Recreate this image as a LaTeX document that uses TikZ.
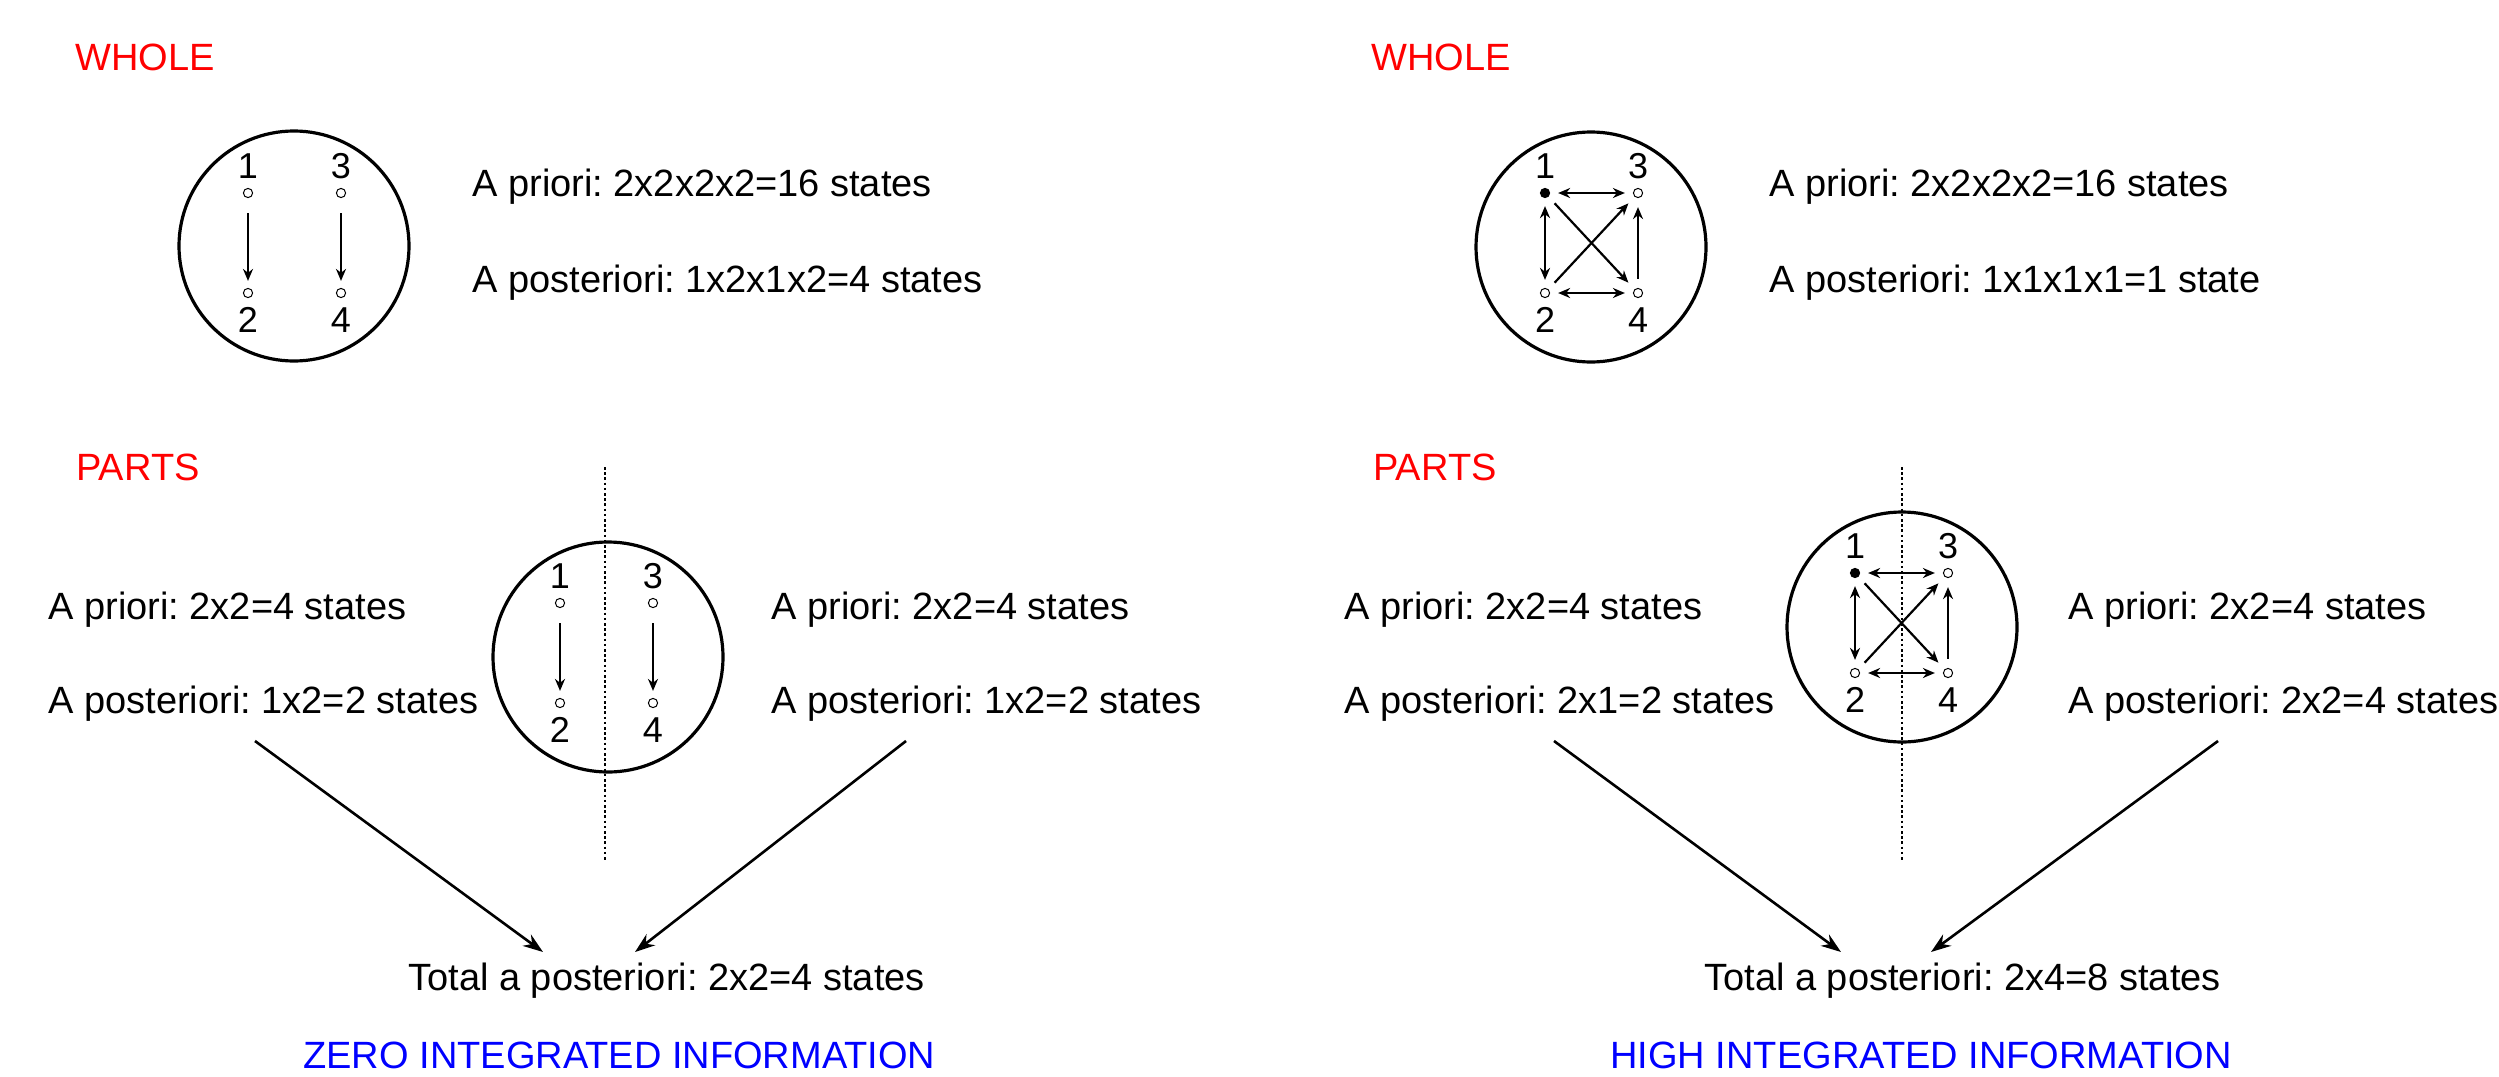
\documentclass[tikz,border=0pt]{standalone}
\usepackage{fontspec}
\setmainfont{Liberation Sans}
\usetikzlibrary{arrows.meta}
\frenchspacing
\begin{document}
\begin{tikzpicture}[x=0.5pt,y=-0.5pt,
  txt/.style={anchor=base west, inner sep=0pt, font=\fontsize{19}{22}\selectfont},
  hdr/.style={txt, text=red},
  concl/.style={txt, text=blue},
  lbl/.style={anchor=base, inner sep=0pt, font=\fontsize{18}{21}\selectfont},
  unit/.style={circle, draw, line width=0.5pt, minimum size=4.6pt, inner sep=0pt, fill=white},
  onunit/.style={unit, fill=black},
  whole/.style={circle, draw, line width=1.6pt, minimum size=115pt, inner sep=0pt},
  tipA/.tip={Stealth[length=6pt,width=5pt]},
  vlink/.style={line width=1.1pt, -tipA, shorten <=7.5pt, shorten >=3.5pt},
  link/.style={line width=1.1pt, -tipA, shorten <=4.5pt, shorten >=4.5pt},
  blink/.style={line width=1.1pt, tipA-tipA, shorten <=4pt, shorten >=4pt},
  cut/.style={line width=1.3pt, dash pattern=on 1.3pt off 1.3pt},
  flow/.style={line width=1.3pt, -{Stealth[length=10pt,width=7pt]}}
]
\fill[white] (0,0) rectangle (2499,1076);
\useasboundingbox (0,0) rectangle (2499,1076);

% ================= LEFT PANEL =================
\node[hdr] (wholeL) at (75,70) {WHOLE};
\node[whole] (cTL) at (294,246) {};
\node[unit] (tl1) at (248,193) {};
\node[unit] (tl3) at (341,193) {};
\node[unit] (tl2) at (248,293) {};
\node[unit] (tl4) at (341,293) {};
\node[lbl] (tl1l) at (248,178) {1};
\node[lbl] (tl3l) at (341,178) {3};
\node[lbl] (tl2l) at (248,332) {2};
\node[lbl] (tl4l) at (341,332) {4};
\draw[vlink] (tl1) -- (tl2);
\draw[vlink] (tl3) -- (tl4);
\node[txt] (tlpri) at (472,196) {A priori: 2x2x2x2=16 states};
\node[txt] (tlpost) at (472,292) {A posteriori: 1x2x1x2=4 states};

\node[hdr] (partsL) at (76,480) {PARTS};
\coordinate (cutLa) at (605,467);
\coordinate (cutLb) at (605,862);
\draw[cut] (cutLa) -- (cutLb);
\node[whole] (cBL) at (608,657) {};
\node[unit] (bl1) at (560,603) {};
\node[unit] (bl3) at (653,603) {};
\node[unit] (bl2) at (560,703) {};
\node[unit] (bl4) at (653,703) {};
\node[lbl] (bl1l) at (560,588) {1};
\node[lbl] (bl3l) at (653,588) {3};
\node[lbl] (bl2l) at (560,742) {2};
\node[lbl] (bl4l) at (653,742) {4};
\draw[vlink] (bl1) -- (bl2);
\draw[vlink] (bl3) -- (bl4);
\node[txt] (blpriA) at (48,619) {A priori: 2x2=4 states};
\node[txt] (blpostA) at (48,713) {A posteriori: 1x2=2 states};
\node[txt] (blpriB) at (771,619) {A priori: 2x2=4 states};
\node[txt] (blpostB) at (771,713) {A posteriori: 1x2=2 states};

\coordinate (fLa) at (255,741);
\coordinate (fLb) at (906,741);
\coordinate (fLta) at (543,952);
\coordinate (fLtb) at (635,952);
\draw[flow] (fLa) -- (fLta);
\draw[flow] (fLb) -- (fLtb);
\node[txt] (totL) at (408,990) {Total a posteriori: 2x2=4 states};
\node[concl] (zero) at (303,1068) {ZERO INTEGRATED INFORMATION};

% ================= RIGHT PANEL =================
\node[hdr] (wholeR) at (1371,70) {WHOLE};
\node[whole] (cTR) at (1591,247) {};
\node[onunit] (tr1) at (1545,193) {};
\node[unit] (tr3) at (1638,193) {};
\node[unit] (tr2) at (1545,293) {};
\node[unit] (tr4) at (1638,293) {};
\node[lbl] (tr1l) at (1545,178) {1};
\node[lbl] (tr3l) at (1638,178) {3};
\node[lbl] (tr2l) at (1545,332) {2};
\node[lbl] (tr4l) at (1638,332) {4};
\draw[blink] (tr1) -- (tr3);
\draw[blink] (tr1) -- (tr2);
\draw[blink] (tr2) -- (tr4);
\draw[link] (tr4) -- (tr3);
\draw[link] (tr1) -- (tr4);
\draw[link] (tr2) -- (tr3);
\node[txt] (trpri) at (1769,196) {A priori: 2x2x2x2=16 states};
\node[txt] (trpost) at (1769,292) {A posteriori: 1x1x1x1=1 state};

\node[hdr] (partsR) at (1373,480) {PARTS};
\coordinate (cutRa) at (1902,467);
\coordinate (cutRb) at (1902,862);
\draw[cut] (cutRa) -- (cutRb);
\node[whole] (cBR) at (1902,627) {};
\node[onunit] (br1) at (1855,573) {};
\node[unit] (br3) at (1948,573) {};
\node[unit] (br2) at (1855,673) {};
\node[unit] (br4) at (1948,673) {};
\node[lbl] (br1l) at (1855,558) {1};
\node[lbl] (br3l) at (1948,558) {3};
\node[lbl] (br2l) at (1855,712) {2};
\node[lbl] (br4l) at (1948,712) {4};
\draw[blink] (br1) -- (br3);
\draw[blink] (br1) -- (br2);
\draw[blink] (br2) -- (br4);
\draw[link] (br4) -- (br3);
\draw[link] (br1) -- (br4);
\draw[link] (br2) -- (br3);
\node[txt] (brpriA) at (1344,619) {A priori: 2x2=4 states};
\node[txt] (brpostA) at (1344,713) {A posteriori: 2x1=2 states};
\node[txt] (brpriB) at (2068,619) {A priori: 2x2=4 states};
\node[txt] (brpostB) at (2068,713) {A posteriori: 2x2=4 states};

\coordinate (fRa) at (1554,741);
\coordinate (fRb) at (2218,741);
\coordinate (fRta) at (1841,952);
\coordinate (fRtb) at (1931,952);
\draw[flow] (fRa) -- (fRta);
\draw[flow] (fRb) -- (fRtb);
\node[txt] (totR) at (1704,990) {Total a posteriori: 2x4=8 states};
\node[concl] (high) at (1610,1068) {HIGH INTEGRATED INFORMATION};
\end{tikzpicture}
\end{document}
